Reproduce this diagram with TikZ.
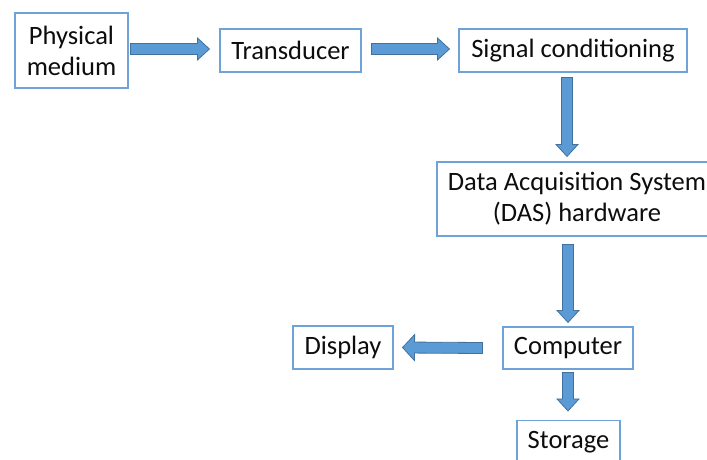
\documentclass[tikz,border=0pt]{standalone}
\usepackage{fontspec}
\setmainfont{Carlito}
\usetikzlibrary{calc}
\definecolor{boxline}{HTML}{6FA3D8}
\definecolor{arrfill}{HTML}{5B9BD5}
\definecolor{arrline}{HTML}{41719C}
\definecolor{txt}{HTML}{0D0D0D}
\tikzset{
  blk/.style={draw=boxline, line width=1.1pt, fill=white, rectangle, inner sep=0pt,
    text=txt, font=\fontsize{26.5}{31}\selectfont, align=center},
  blockarrow/.style={draw=arrline, fill=arrfill, line width=0.8pt, line join=miter}
}
\newcommand{\barrow}[3][11pt]{%
  \coordinate (ba1) at #2;
  \coordinate (ba2) at #3;
  \coordinate (bah) at ($(ba2)!12pt!(ba1)$);
  \draw[blockarrow] ($(ba1)!5.5pt!90:(ba2)$) -- ($(bah)!5.5pt!90:(ba2)$) -- ($(bah)!#1!90:(ba2)$) -- (ba2)
     -- ($(bah)!#1!-90:(ba2)$) -- ($(bah)!5.5pt!-90:(ba2)$) -- ($(ba1)!5.5pt!-90:(ba2)$) -- cycle;}
\begin{document}
\begin{tikzpicture}[x=1pt,y=-1pt]
\useasboundingbox (0,0) rectangle (707,460);
\clip (0,0) rectangle (707,460);
\fill[white] (0,0) rectangle (707,460);
\node[blk, minimum width=113pt, minimum height=75pt] (phys) at (71.5,50.5) {Physical\\medium};
\node[blk, minimum width=141pt, minimum height=43pt] (trans) at (290.5,50.5) {Transducer};
\node[blk, minimum width=228pt, minimum height=43pt] (sig) at (573,50.5) {Signal conditioning};
\node[blk, minimum width=280pt, minimum height=74pt] (das) at (577,199) {Data Acquisition System\\(DAS) hardware};
\node[blk, minimum width=130pt, minimum height=42pt] (comp) at (568,348) {Computer};
\node[blk, minimum width=100pt, minimum height=43pt] (disp) at (343,347.5) {Display};
\node[blk, minimum width=103pt, minimum height=43pt] (stor) at (568.5,442) {Storage};
\barrow{($(phys.east)+(2,-1.5)$)}{($(trans.west)+(-10,-1.5)$)}
\barrow{($(trans.east)+(10,-1.5)$)}{($(sig.west)+(-9,-1.5)$)}
\barrow{($(sig.south)+(-6,5)$)}{($(das.north)+(-10,-5)$)}
\barrow{($(das.south)+(-9,8)$)}{($(comp.north)+(0,-4)$)}
\barrow[13pt]{($(comp.west)+(-20,0)$)}{($(disp.east)+(9,0)$)}
\barrow{($(comp.south)+(0,3)$)}{($(stor.north)+(-0.5,-9)$)}
\end{tikzpicture}
\end{document}
